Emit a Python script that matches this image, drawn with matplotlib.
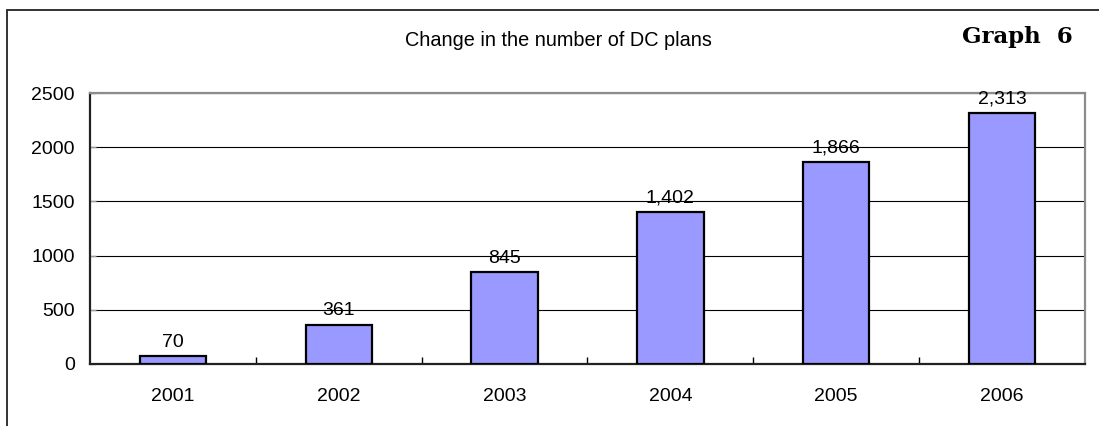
import numpy as np
import matplotlib.pyplot as plt
from matplotlib.patches import Rectangle
from matplotlib.ticker import FixedLocator, NullFormatter

# data
years = ['2001', '2002', '2003', '2004', '2005', '2006']
plans = [70, 361, 845, 1402, 1866, 2313]
value_labels = ['70', '361', '845', '1,402', '1,866', '2,313']

plt.rcParams['font.family'] = ['Liberation Sans', 'DejaVu Sans']

fig = plt.figure(figsize=(10.99, 4.26), dpi=100)
ax = fig.add_axes([90 / 1099, 62 / 426, 995 / 1099, 271 / 426])

x = np.arange(len(years))
ax.bar(x, plans, width=0.40, color='#9999FF', edgecolor='black', linewidth=1.6, zorder=3)

for xi, v, lab in zip(x, plans, value_labels):
    ax.annotate(lab, (xi, v), xytext=(0, 4), textcoords='offset points',
                ha='center', va='bottom', fontsize=14, zorder=4)

ax.set_xlim(-0.5, len(years) - 0.5)
ax.set_ylim(0, 2500)
ax.set_yticks([0, 500, 1000, 1500, 2000, 2500])
ax.yaxis.grid(True, color='black', linewidth=0.8, zorder=0)

# category labels centred, tick marks at the boundaries
ax.set_xticks(x)
ax.set_xticklabels(years, fontsize=14)
ax.tick_params(axis='x', which='major', length=0, pad=17)
ax.xaxis.set_minor_locator(FixedLocator(np.arange(0.5, len(years) - 1, 1.0)))
ax.xaxis.set_minor_formatter(NullFormatter())
ax.tick_params(axis='x', which='minor', direction='in', length=5, width=1, color='black')
ax.tick_params(axis='y', direction='in', length=4, width=1, color='#999999', pad=11, labelsize=14)

for side in ['top', 'right']:
    ax.spines[side].set_color('#8c8c8c')
    ax.spines[side].set_linewidth(1.6)
for side in ['left', 'bottom']:
    ax.spines[side].set_color('#222222')
    ax.spines[side].set_linewidth(1.6)

fig.text(0.508, 1 - 40 / 426, 'Change in the number of DC plans', ha='center', va='center', fontsize=14.3)
fig.text(1073 / 1099, 1 - 37 / 426, 'Graph  6', ha='right', va='center', fontsize=16.5,
         family=['DejaVu Serif'], fontweight='bold')

# outer frame (only left and top visible)
fig.patches.append(Rectangle((7 / 1099, -0.1), 1.2, 1.1 - 10 / 426, transform=fig.transFigure,
                             fill=False, edgecolor='#222222', linewidth=1.3))

fig.savefig('out.png', dpi=100)
